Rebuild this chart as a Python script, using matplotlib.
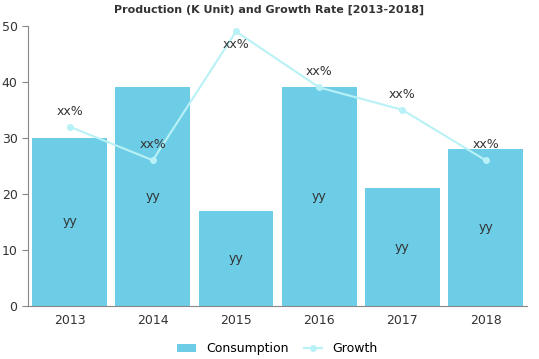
import numpy as np
import matplotlib.pyplot as plt

years = ["2013", "2014", "2015", "2016", "2017", "2018"]
consumption = [30, 39, 17, 39, 21, 28]
growth = [32, 26, 49, 39, 35, 26]
bar_labels = ["yy"] * 6
line_labels = ["xx%"] * 6

fig = plt.figure(figsize=(5.39, 3.59), dpi=100)
ax = fig.add_axes([0.052, 0.148, 0.926, 0.78])

x = np.arange(len(years))
bars = ax.bar(x, consumption, width=0.9, color="#6ecde6", label="Consumption", zorder=2)
line, = ax.plot(x, growth, color="#b8f1f6", lw=1.5, marker="o", ms=4, label="Growth", zorder=3)

for xi, v, t in zip(x, consumption, bar_labels):
    ax.text(xi, v / 2, t, ha="center", va="center", fontsize=9, color="#333333", zorder=4)
for xi, v, t in zip(x, growth, line_labels):
    if v > 45:
        ax.text(xi, v - 1.2, t, ha="center", va="top", fontsize=9, color="#333333", zorder=4)
    else:
        ax.text(xi, v + 1.6, t, ha="center", va="bottom", fontsize=9, color="#333333", zorder=4)

ax.set_xlim(-0.5, 5.5)
ax.set_ylim(0, 50)
ax.set_yticks([0, 10, 20, 30, 40, 50])
ax.set_xticks(x)
ax.set_xticklabels(years)
for s in ["top", "right"]:
    ax.spines[s].set_visible(False)
for s in ["left", "bottom"]:
    ax.spines[s].set_color("#888888")
ax.tick_params(axis="both", colors="#888888", labelcolor="#333333", labelsize=9, length=4)
ax.tick_params(axis="x", length=0, pad=6)

fig.text(0.5, 0.972, "Production (K Unit) and Growth Rate [2013-2018]", ha="center", va="center",
         fontsize=8, fontweight="heavy", color="#333333")

ax.legend([bars, line], ["Consumption", "Growth"], loc="upper center", bbox_to_anchor=(0.5, -0.09),
          ncol=2, frameon=False, fontsize=9, handlelength=1.5, columnspacing=1.2)

fig.savefig("out.png", dpi=100)
